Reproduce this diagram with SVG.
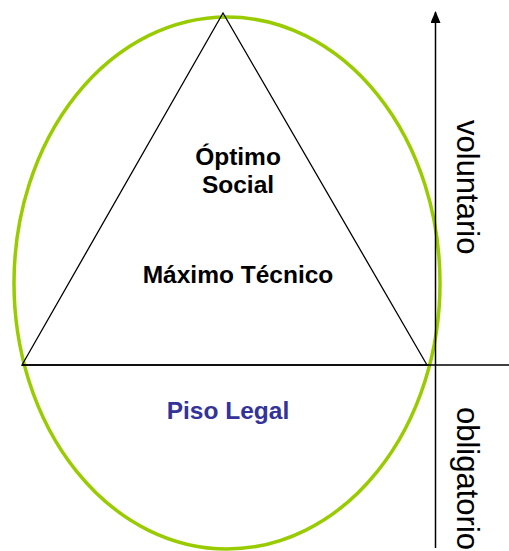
<svg xmlns="http://www.w3.org/2000/svg" width="509" height="551" viewBox="0 0 509 551">
<style>
.lbl{font-family:"Liberation Sans",Arial,sans-serif;font-weight:bold;font-size:24.5px;text-anchor:middle;fill:#000}
.side{font-family:"Liberation Sans",Arial,sans-serif;font-size:31px;fill:#000}
.ln{stroke:#000;stroke-width:1.5;fill:none}
</style>
<defs>
<marker id="ah" markerWidth="12" markerHeight="10" refX="11" refY="5" orient="auto" markerUnits="userSpaceOnUse" viewBox="0 0 12 10">
<path d="M0,0 L12,5 L0,10 Z" fill="#000"/>
</marker>
</defs>
<rect width="509" height="551" fill="#fff"/>
<g id="ellipse"><ellipse cx="227" cy="283" rx="213" ry="266" fill="none" stroke="#99CC00" stroke-width="3.5"/></g>
<g id="triangle"><polygon points="223,13 22,365 427,365" fill="none" stroke="#000" stroke-width="1.3"/></g>
<g id="connectors">
<line class="ln" x1="22" y1="365" x2="509" y2="365"/>
<line class="ln" x1="435.5" y1="548" x2="435.5" y2="12" marker-end="url(#ah)"/>
</g>
<g id="optimo"><text class="lbl" x="238" y="165">Óptimo</text><text class="lbl" x="238" y="193">Social</text></g>
<g id="maximo"><text class="lbl" x="238" y="283">Máximo Técnico</text></g>
<g id="piso"><text class="lbl" x="228" y="419" style="fill:#333399">Piso Legal</text></g>
<g id="voluntario"><text class="side" transform="translate(457,120) rotate(90)">voluntario</text></g>
<g id="obligatorio"><text class="side" transform="translate(457,407) rotate(90)">obligatorio</text></g>
</svg>
